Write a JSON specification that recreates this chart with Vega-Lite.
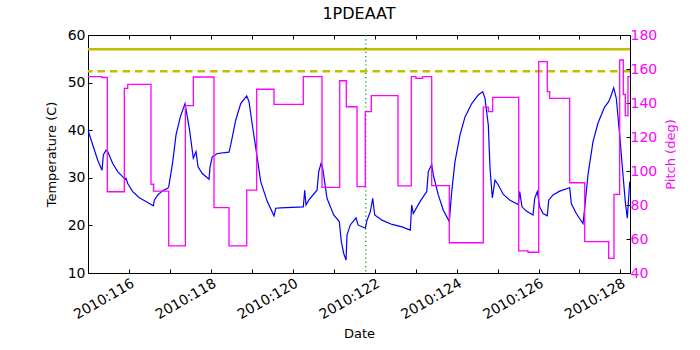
{
  "$schema": "https://vega.github.io/schema/vega-lite/v6.json",
  "width": 542,
  "height": 238,
  "autosize": {"type": "none"},
  "padding": {"left": 88, "top": 35, "right": 70, "bottom": 77},
  "background": "white",
  "title": {"text": "1PDEAAT", "fontSize": 16, "fontWeight": "normal", "offset": 6, "font": "DejaVu Sans", "color": "black"},
  "config": {
    "font": "DejaVu Sans",
    "view": {"stroke": "black", "strokeWidth": 1},
    "axis": {"grid": false, "domain": false, "labelFont": "DejaVu Sans", "titleFont": "DejaVu Sans", "labelFontSize": 14, "titleFontSize": 13, "titleFontWeight": "normal", "tickColor": "black", "labelColor": "black", "titleColor": "black"}
  },
  "datasets": {
    "temp": [
      {"t":114.991,"temp":40.0},{"t":115.106,"temp":36.9},{"t":115.228,"temp":33.7},{"t":115.333,"temp":31.6},{"t":115.365,"temp":34.8},{"t":115.431,"temp":35.8},{"t":115.472,"temp":35.5},{"t":115.594,"temp":33.0},{"t":115.717,"temp":31.3},{"t":115.839,"temp":30.2},{"t":115.902,"temp":29.7},{"t":115.919,"temp":29.9},{"t":115.961,"temp":28.8},{"t":116.083,"temp":27.1},{"t":116.244,"temp":25.8},{"t":116.408,"temp":25.0},{"t":116.587,"temp":24.1},{"t":116.611,"temp":25.3},{"t":116.694,"temp":26.4},{"t":116.816,"temp":27.3},{"t":116.938,"temp":27.8},{"t":116.963,"temp":28.1},{"t":117.061,"temp":33.4},{"t":117.141,"temp":39.0},{"t":117.246,"temp":42.8},{"t":117.361,"temp":45.6},{"t":117.466,"temp":40.4},{"t":117.564,"temp":34.1},{"t":117.63,"temp":35.5},{"t":117.679,"temp":32.3},{"t":117.784,"temp":30.9},{"t":117.948,"temp":29.7},{"t":117.972,"temp":32.3},{"t":118.028,"temp":34.4},{"t":118.151,"temp":35.1},{"t":118.436,"temp":35.4},{"t":118.478,"temp":36.9},{"t":118.6,"temp":42.1},{"t":118.722,"temp":45.6},{"t":118.869,"temp":47.2},{"t":118.925,"temp":46.0},{"t":119.006,"temp":41.1},{"t":119.128,"temp":34.1},{"t":119.211,"temp":29.2},{"t":119.372,"temp":25.0},{"t":119.536,"temp":22.0},{"t":119.578,"temp":23.6},{"t":119.7,"temp":23.7},{"t":120.252,"temp":23.9},{"t":120.286,"temp":27.4},{"t":120.318,"temp":24.3},{"t":120.384,"temp":25.3},{"t":120.587,"temp":27.4},{"t":120.629,"temp":31.3},{"t":120.685,"temp":33.0},{"t":120.726,"temp":32.0},{"t":120.831,"temp":25.7},{"t":120.995,"temp":22.2},{"t":121.132,"temp":20.8},{"t":121.181,"temp":16.6},{"t":121.239,"temp":14.1},{"t":121.296,"temp":12.7},{"t":121.32,"temp":18.0},{"t":121.401,"temp":20.1},{"t":121.54,"temp":21.6},{"t":121.589,"temp":20.1},{"t":121.687,"temp":19.7},{"t":121.767,"temp":19.4},{"t":121.809,"temp":21.1},{"t":121.89,"temp":22.9},{"t":121.948,"temp":25.7},{"t":121.997,"temp":22.2},{"t":122.176,"temp":21.1},{"t":122.42,"temp":20.2},{"t":122.664,"temp":19.7},{"t":122.867,"temp":19.0},{"t":122.901,"temp":24.3},{"t":122.94,"temp":22.5},{"t":123.104,"temp":25.0},{"t":123.268,"temp":27.1},{"t":123.307,"temp":31.3},{"t":123.39,"temp":32.8},{"t":123.429,"temp":30.6},{"t":123.551,"temp":26.4},{"t":123.674,"temp":23.2},{"t":123.82,"temp":20.8},{"t":123.879,"temp":27.1},{"t":123.959,"temp":33.4},{"t":124.082,"temp":39.0},{"t":124.204,"temp":42.8},{"t":124.368,"temp":45.6},{"t":124.529,"temp":47.4},{"t":124.636,"temp":48.1},{"t":124.692,"temp":46.7},{"t":124.773,"temp":41.1},{"t":124.815,"temp":32.0},{"t":124.871,"temp":25.8},{"t":124.937,"temp":29.5},{"t":125.018,"temp":28.5},{"t":125.14,"temp":26.5},{"t":125.303,"temp":25.3},{"t":125.506,"temp":24.4},{"t":125.54,"temp":27.1},{"t":125.597,"temp":23.9},{"t":125.702,"temp":23.0},{"t":125.866,"temp":22.2},{"t":125.907,"temp":25.7},{"t":125.971,"temp":27.1},{"t":126.029,"temp":23.9},{"t":126.11,"temp":22.5},{"t":126.215,"temp":22.0},{"t":126.249,"temp":25.3},{"t":126.354,"temp":26.4},{"t":126.518,"temp":27.2},{"t":126.762,"temp":27.9},{"t":126.801,"temp":24.6},{"t":126.924,"temp":22.5},{"t":127.087,"temp":20.4},{"t":127.129,"temp":23.6},{"t":127.209,"temp":30.6},{"t":127.332,"temp":37.6},{"t":127.454,"temp":41.5},{"t":127.618,"temp":44.9},{"t":127.715,"temp":46.0},{"t":127.779,"temp":47.4},{"t":127.838,"temp":48.9},{"t":127.901,"temp":46.7},{"t":127.984,"temp":39.0},{"t":128.065,"temp":30.6},{"t":128.121,"temp":25.0},{"t":128.17,"temp":21.5},{"t":128.229,"temp":29.2}
    ],
    "pitch": [
      {"t":114.99,"pitch":155.5},{"t":115.333,"pitch":155.0},{"t":115.462,"pitch":87.8},{"t":115.878,"pitch":148.6},{"t":115.961,"pitch":151.0},{"t":116.53,"pitch":92.2},{"t":116.596,"pitch":88.2},{"t":116.963,"pitch":55.9},{"t":117.369,"pitch":138.4},{"t":117.564,"pitch":155.3},{"t":118.07,"pitch":78.4},{"t":118.436,"pitch":55.9},{"t":118.869,"pitch":88.8},{"t":119.113,"pitch":148.1},{"t":119.536,"pitch":139.2},{"t":120.252,"pitch":155.5},{"t":120.709,"pitch":90.4},{"t":121.142,"pitch":153.1},{"t":121.303,"pitch":137.8},{"t":121.565,"pitch":90.8},{"t":121.767,"pitch":134.9},{"t":121.914,"pitch":144.3},{"t":122.566,"pitch":91.2},{"t":122.891,"pitch":155.5},{"t":123.006,"pitch":154.5},{"t":123.17,"pitch":155.5},{"t":123.39,"pitch":91.4},{"t":123.82,"pitch":57.8},{"t":124.651,"pitch":137.6},{"t":124.773,"pitch":134.9},{"t":124.881,"pitch":143.3},{"t":125.516,"pitch":53.0},{"t":125.743,"pitch":52.2},{"t":126.005,"pitch":164.3},{"t":126.215,"pitch":146.7},{"t":126.274,"pitch":142.7},{"t":126.762,"pitch":93.1},{"t":127.129,"pitch":58.4},{"t":127.715,"pitch":48.6},{"t":127.845,"pitch":86.3},{"t":127.984,"pitch":165.3},{"t":128.072,"pitch":145.1},{"t":128.121,"pitch":132.6},{"t":128.187,"pitch":155.5},{"t":128.236,"pitch":155.5}
    ],
    "limits": [
      {"limit":"planning","temp":57.0},
      {"limit":"caution","temp":52.4}
    ],
    "marker": [
      {"t":121.78}
    ]
  },
  "resolve": {"scale": {"y": "independent"}, "axis": {"x": "independent"}},
  "layer": [
    {
      "data": {"name": "temp"},
      "mark": {"type": "line", "color": "#0000ff", "strokeWidth": 1.2, "clip": true},
      "encoding": {
        "x": {"field": "t", "type": "quantitative", "scale": {"domain": [114.99, 128.236], "nice": false, "zero": false},
              "axis": {"orient": "bottom", "title": "Date", "values": [115,116,117,118,119,120,121,122,123,124,125,126,127,128],
                       "labelExpr": "datum.value % 2 == 0 ? '2010:' + datum.value : ''", "labelAngle": -30, "labelAlign": "right", "labelBaseline": "top",
                       "tickSize": -4, "labelPadding": 7, "titlePadding": 6, "labelFlush": false, "labelOverlap": false}},
        "y": {"field": "temp", "type": "quantitative", "scale": {"domain": [10, 60], "nice": false, "zero": false},
              "axis": {"orient": "left", "title": "Temperature (C)", "values": [10,20,30,40,50,60], "tickSize": -4, "labelPadding": 7, "titlePadding": 9}}
      }
    },
    {
      "data": {"name": "limits"},
      "transform": [{"filter": "datum.limit == 'planning'"}],
      "mark": {"type": "rule", "color": "#bfbf00", "strokeWidth": 2.5},
      "encoding": {
        "y": {"field": "temp", "type": "quantitative", "scale": {"domain": [10, 60], "nice": false, "zero": false}, "axis": null}
      }
    },
    {
      "data": {"name": "limits"},
      "transform": [{"filter": "datum.limit == 'caution'"}],
      "mark": {"type": "rule", "color": "#bfbf00", "strokeWidth": 2.5, "strokeDash": [7.5, 5]},
      "encoding": {
        "y": {"field": "temp", "type": "quantitative", "scale": {"domain": [10, 60], "nice": false, "zero": false}, "axis": null}
      }
    },
    {
      "data": {"name": "marker"},
      "mark": {"type": "rule", "color": "#008000", "strokeWidth": 1.2, "strokeDash": [1.2, 3]},
      "encoding": {
        "x": {"field": "t", "type": "quantitative", "scale": {"domain": [114.99, 128.236], "nice": false, "zero": false},
              "axis": {"orient": "top", "title": null, "labels": false, "values": [115,116,117,118,119,120,121,122,123,124,125,126,127,128], "tickSize": -4}}
      }
    },
    {
      "data": {"name": "pitch"},
      "mark": {"type": "line", "color": "#ff00ff", "strokeWidth": 1.3, "interpolate": "step-after", "clip": true},
      "encoding": {
        "x": {"field": "t", "type": "quantitative", "scale": {"domain": [114.99, 128.236], "nice": false, "zero": false}, "axis": null},
        "y": {"field": "pitch", "type": "quantitative", "scale": {"domain": [40, 180], "nice": false, "zero": false},
              "axis": {"orient": "right", "title": "Pitch (deg)", "titleAngle": 270, "titleBaseline": "top", "values": [40,60,80,100,120,140,160,180], "tickSize": -4, "labelPadding": 4, "titlePadding": 8, "labelColor": "#ff00ff", "titleColor": "#ff00ff", "tickColor": "black"}}
      }
    }
  ]
}
